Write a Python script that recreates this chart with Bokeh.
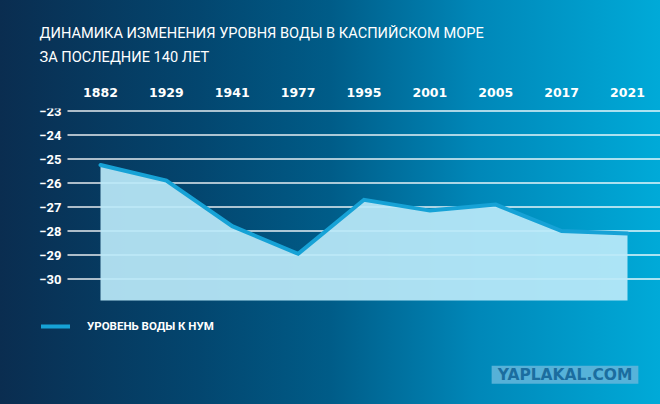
from bokeh.plotting import figure
from bokeh.models import Range1d, FixedTicker, Legend, LegendItem, Title, Label
from bokeh.embed import file_html
from bokeh.resources import INLINE
from bokeh.core.properties import value

# ---- data ----
title_line_1 = "ДИНАМИКА ИЗМЕНЕНИЯ УРОВНЯ ВОДЫ В КАСПИЙСКОМ МОРЕ"
title_line_2 = "ЗА ПОСЛЕДНИЕ 140 ЛЕТ"
years = ["1882", "1929", "1941", "1977", "1995", "2001", "2005", "2017", "2021"]
levels = [-25.25, -25.9, -27.8, -28.95, -26.7, -27.15, -26.9, -28.0, -28.1]
y_ticks = [-23, -24, -25, -26, -27, -28, -29, -30]
y_tick_labels = ["−23", "−24", "−25", "−26", "−27", "−28", "−29", "−30"]
series_name = "УРОВЕНЬ ВОДЫ К НУМ"
watermark = "YAPLAKAL.COM"
area_base = -30.9

x_idx = list(range(len(years)))

# ---- figure geometry (pixel -> data helpers) ----
W, H = 660, 404
FT = 108
PX0, PXU = 100.0, 65.875          # pixel of first category, pixels per category
PY0, PYU = 110.5, 24.0            # pixel of -23, pixels per unit


def xd(px):
    return (px - PX0) / PXU


def yd(py):
    return -23 - (py - PY0) / PYU


p = figure(width=W, height=H,
           x_range=Range1d(xd(0), xd(W)),
           y_range=Range1d(yd(H), yd(FT)),
           x_axis_location="above", y_axis_location=None,
           output_backend="svg", toolbar_location=None,
           min_border_left=0, min_border_right=0,
           min_border_top=FT, min_border_bottom=0)

p.styles = {"background": "linear-gradient(90deg, #0a2d50 0%, #03466f 30%, #005c88 50%, #0087b8 72%, #00aad8 100%)"}
p.background_fill_alpha = 0
p.border_fill_alpha = 0
p.outline_line_color = None
p.xgrid.visible = False
p.ygrid.visible = False

# x axis (above) with the year categories
p.xaxis.ticker = FixedTicker(ticks=x_idx)
p.xaxis.major_label_overrides = {i: y for i, y in zip(x_idx, years)}
p.xaxis.axis_line_color = None
p.xaxis.major_tick_line_color = None
p.xaxis.minor_tick_line_color = None
p.xaxis.major_label_standoff = 6
p.xaxis.major_label_text_color = "white"
p.xaxis.major_label_text_font = "DejaVu Sans"
p.xaxis.major_label_text_font_style = "bold"
p.xaxis.major_label_text_font_size = "12.5px"

# horizontal grid lines and y tick labels
p.segment(x0=xd(67), x1=xd(W + 5), y0=y_ticks, y1=y_ticks,
          line_color="white", line_width=1.3, line_alpha=0.9)
p.text(x=xd(61), y=y_ticks, text=y_tick_labels, text_align="right",
       text_baseline="middle", text_color="white", text_font=value("Roboto"),
       text_font_style="bold", text_font_size="13px")

# area (slightly see-through so the grid shows faintly)
p.varea(x=x_idx, y1=area_base, y2=levels, fill_color="#bbe9f9", fill_alpha=0.92)

# level line
level_line = p.line(x=x_idx, y=levels, line_color="#16a2d6", line_width=4,
                    line_join="miter", line_cap="round")

# title (two lines)
title = Title(text=title_line_1 + "\n" + title_line_2, align="left", offset=39,
              vertical_align="bottom", standoff=36,
              text_font="Roboto", text_font_size="14.6px", text_font_style="normal",
              text_color="white", text_line_height=1.344)
p.add_layout(title, "above")

# legend
legend = Legend(items=[LegendItem(label=series_name, renderers=[level_line])],
                location=(41, 71), orientation="vertical",
                padding=0, margin=0, spacing=0,
                glyph_width=29, glyph_height=14, label_height=14,
                label_standoff=17,
                label_text_color="white", label_text_font="Roboto",
                label_text_font_style="bold", label_text_font_size="11.5px",
                border_line_color=None, background_fill_alpha=0)
p.add_layout(legend)

# watermark
p.add_layout(Label(x=xd(564.5), y=yd(374.3), text=watermark,
                   text_font="DejaVu Sans", text_font_style="bold", text_font_size="15.5px",
                   text_color="#1b6d9f", text_baseline="middle", text_align="center",
                   background_fill_color="#5fb5da", background_fill_alpha=0.9,
                   padding=dict(left=6, right=6, top=0, bottom=0)))

open("out.html", "w").write(file_html(p, INLINE))
